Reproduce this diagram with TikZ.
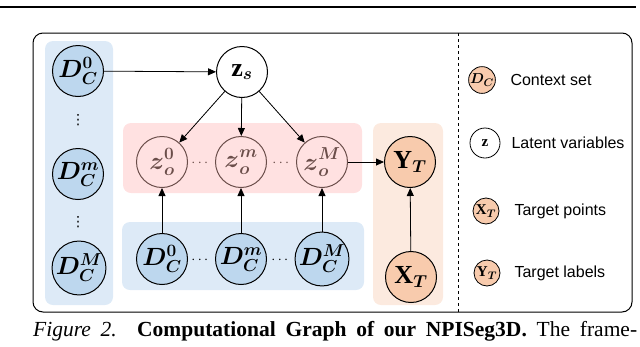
\documentclass[tikz,border=0pt]{standalone}
\usepackage{amsmath,amssymb,bm}
\usepackage{fontspec}
\setmainfont{Liberation Serif}
\newfontfamily\legendfont{Liberation Sans}
\newfontfamily\dotfont{DejaVu Sans}
\usetikzlibrary{arrows.meta}
\newcommand{\sz}[1]{\mbox{\fontsize{18}{18}\selectfont$#1$}}
\newcommand{\ksz}[1]{\mbox{\fontsize{11}{11}\selectfont$#1$}}
\definecolor{ctxbg}{HTML}{DDEAF7}
\definecolor{ctxfill}{HTML}{BDD7EE}
\definecolor{latbg}{HTML}{FFE1E1}
\definecolor{latline}{HTML}{6B4E4A}
\definecolor{tgtbg}{HTML}{FCEADF}
\definecolor{tgtfill}{HTML}{F8CBAD}

\begin{document}
\begin{tikzpicture}[x=1pt, y=-1pt, >={Triangle[length=8pt, width=7pt]},
  var/.style={circle, draw, line width=1pt, minimum size=51pt, inner sep=0pt, font=\fontsize{26}{26}\selectfont},
  ctx/.style={var, fill=ctxfill},
  lat/.style={var, draw=latline, text=latline},
  tgt/.style={var, fill=tgtfill},
  panel/.style={rounded corners=8pt},
  key/.style={circle, draw, line width=0.8pt, inner sep=0pt, font=\fontsize{15}{15}\selectfont},
  keytext/.style={anchor=west, font=\legendfont\fontsize{16}{16}\selectfont},
  dots/.style={inner sep=0pt, font=\fontsize{14}{14}\selectfont},
  vdots/.style={inner sep=0pt, font=\dotfont\fontsize{14}{14}\selectfont},
  edge/.style={->, line width=0.8pt}]
\useasboundingbox (0,0) rectangle (640,346);
\draw[line width=1.3pt] (0,7) -- (636,7);
\draw[line width=1pt, rounded corners=10pt] (33,33) rectangle (632,312);
\fill[ctxbg, panel] (45,41) rectangle (113,305);
\fill[latbg, panel] (123,123) rectangle (362,193);
\fill[ctxbg, panel] (122,222) rectangle (364,290);
\fill[tgtbg, panel] (373,123) rectangle (443,305);
\draw[dashed, line width=0.8pt] (458,33) -- (458,312);

\node[ctx] (c0) at (78,71) {$\bm{D}^{\sz{\bm{0}}}_{\sz{\bm{C}}}$};
\node[ctx] (cm) at (78,174) {$\bm{D}^{\sz{\bm{m}}}_{\sz{\bm{C}}}$};
\node[ctx] (cM) at (79,268) {$\bm{D}^{\sz{\bm{M}}}_{\sz{\bm{C}}}$};
\node[vdots] (vd1) at (78,120) {⋮};
\node[vdots] (vd2) at (78,222) {⋮};
\node[var] (zs) at (242,72) {$\mathbf{z}_{\sz{\bm{s}}}$};
\draw[edge] (c0) -- (zs);

\foreach \x/\s/\n in {162/0/a, 241/m/b, 322/M/c} {
  \node[lat] (z\n) at (\x,162) {${\bm{z}\vphantom{\bm{D}}}^{\sz{\bm{\s}}}_{\sz{\bm{o}}}$};
  \node[ctx] (d\n) at (\x,259) {$\bm{D}^{\sz{\bm{\s}}}_{\sz{\bm{C}}}$};
  \draw[edge] (zs) -- (z\n);
  \draw[edge] (d\n) -- (z\n);
}
\node[dots, text=latline] (hz1) at (201,163) {$\cdots$};
\node[dots, text=latline] (hz2) at (282,163) {$\cdots$};
\node[dots] (hd1) at (201,260) {$\cdots$};
\node[dots] (hd2) at (281,260) {$\cdots$};

\node[tgt] (yt) at (410,162) {$\mathbf{Y}_{\sz{\bm{T}}}$};
\node[tgt] (xt) at (411,277) {$\mathbf{X}_{\sz{\bm{T}}}$};
\draw[edge] (zc) -- (yt);
\draw[edge] (xt) -- (yt);

\node[key, fill=tgtfill, minimum size=23pt] (kctx) at (482,80) {$\bm{D}_{\ksz{\bm{C}}}$};
\node[keytext] (kctxl) at (507,80) {Context set};
\node[key, minimum size=30pt] (klat) at (485,143) {$\mathbf{z}$};
\node[keytext] (klatl) at (508,143) {Latent variables};
\node[key, fill=tgtfill, minimum size=26pt] (kx) at (486,211) {$\mathbf{X}_{\ksz{\bm{T}}}$};
\node[keytext] (kxl) at (511,211) {Target points};
\node[key, fill=tgtfill, minimum size=26pt] (ky) at (487,273) {$\mathbf{Y}_{\ksz{\bm{T}}}$};
\node[keytext] (kyl) at (511,273) {Target labels};

\node[anchor=west, inner sep=0pt, font=\fontsize{21.5}{21.5}\selectfont] (cap) at (33,331)
  {\makebox[604pt][s]{\textit{Figure 2.} \textbf{Computational Graph of our NPISeg3D.} The frame-}};
\end{tikzpicture}
\end{document}
